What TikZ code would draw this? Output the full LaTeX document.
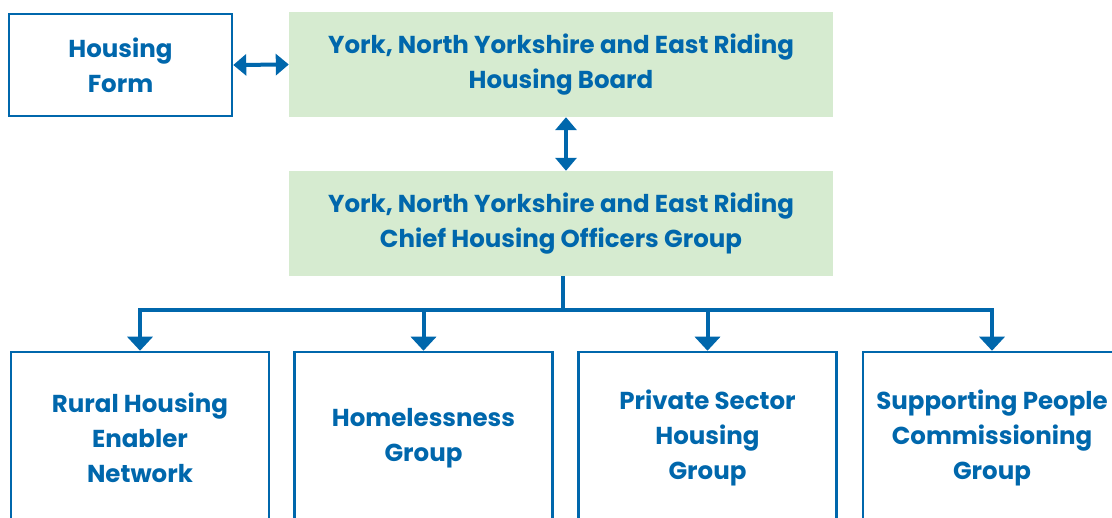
\documentclass[tikz,border=0pt]{standalone}
\usepackage{fontspec}
\setmainfont{Poppins}
\usetikzlibrary{arrows.meta}
\definecolor{ybl}{RGB}{0,103,172}
\definecolor{ygr}{RGB}{214,235,208}

\begin{document}
\begin{tikzpicture}[x=1pt, y=-1pt,
  font=\fontsize{24.5}{35}\selectfont\bfseries,
  box/.style={draw=ybl, line width=2.5pt, text=ybl, align=center, inner sep=0pt},
  board/.style={fill=ygr, text=ybl, align=center, inner sep=0pt, minimum width=544pt, minimum height=105pt},
  link/.style={ybl, line width=4pt, {Triangle[width=21pt,length=13pt]}-{Triangle[width=21pt,length=13pt]}},
  drop/.style={ybl, line width=4pt, -{Triangle[width=25pt,length=14pt]}}]

  \useasboundingbox (0,0) rectangle (1112,518);

  % Top row
  \node[box, minimum width=223pt, minimum height=102pt] (HF) at (120.5,65) {Housing\\Form};
  \node[board] (YB) at (561,64.5) {York, North Yorkshire and East Riding\\Housing Board};

  % Middle
  \node[board] (YC) at (561,223.5) {York, North Yorkshire and East Riding\\Chief Housing Officers Group};

  % Bottom row
  \node[box, minimum width=258pt, minimum height=172pt] (RH) at (140,438) {Rural Housing\\Enabler\\Network};
  \node[box, minimum width=258pt, minimum height=172pt] (HG) at (423.5,438) {Homelessness\\Group};
  \node[box, minimum width=258pt, minimum height=172pt] (PS) at (707.5,438) {Private Sector\\Housing\\Group};
  \node[box, minimum width=258pt, minimum height=172pt] (SP) at (992,438) {Supporting People\\Commissioning\\Group};

  % Two-way links
  \draw[link] (HF.east) -- (YB.west);
  \draw[link] ([xshift=5pt]YB.south) -- ([xshift=5pt]YC.north);

  % Bus and drops
  \coordinate (bus) at (563,310);
  \draw[ybl, line width=4pt] ([xshift=2pt]YC.south) -- ([xshift=2pt]YC.south |- bus);
  \draw[ybl, line width=4pt] ([xshift=-2pt]bus -| RH.north) -- ([xshift=2pt]bus -| SP.north);
  \foreach \n in {RH,HG,PS,SP}
    \draw[drop] (bus -| \n.north) -- (\n.north);

\end{tikzpicture}
\end{document}
